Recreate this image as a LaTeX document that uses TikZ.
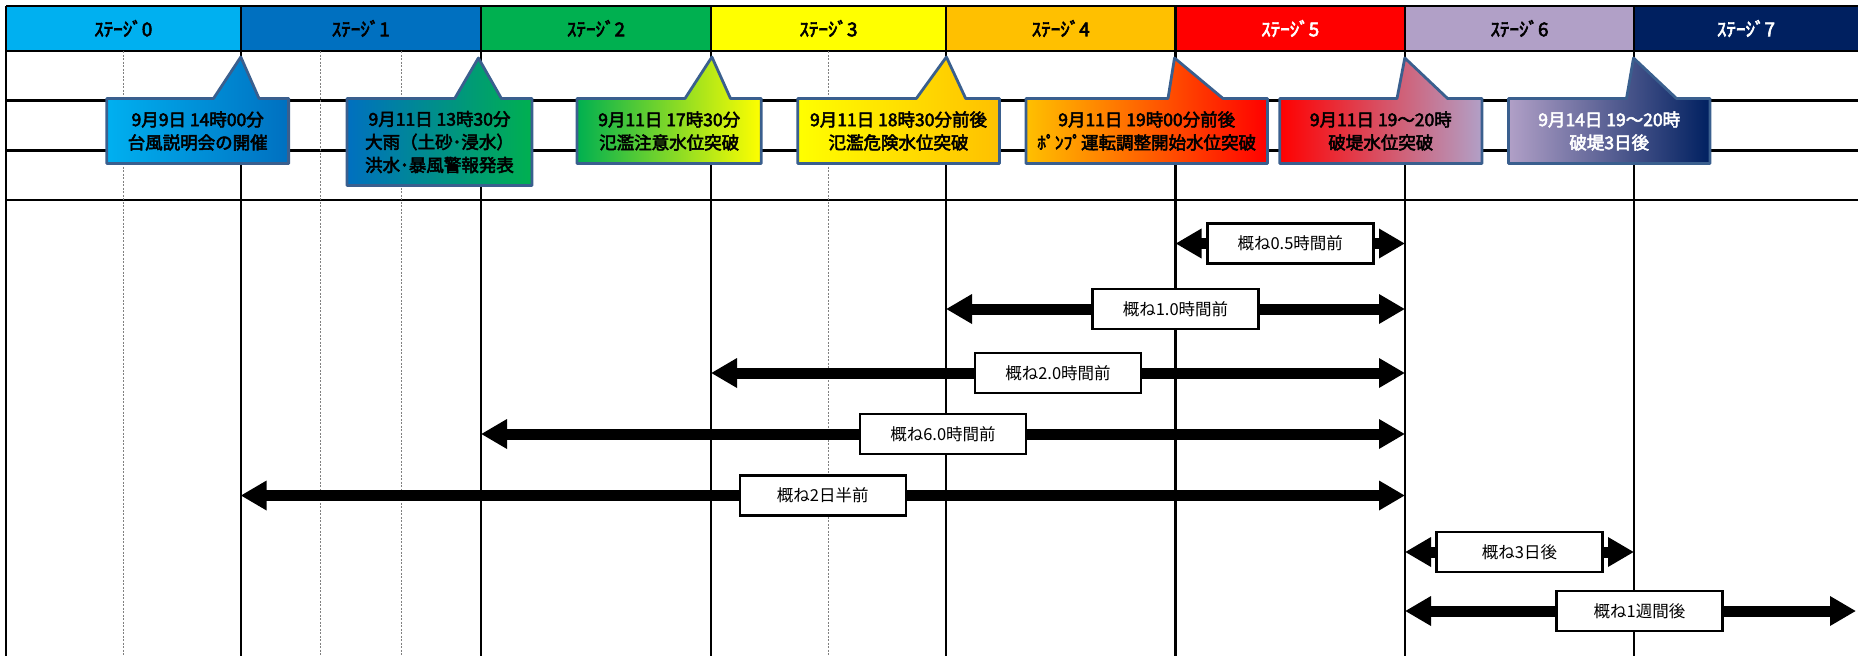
\documentclass[tikz,border=0pt]{standalone}
\usepackage{fontspec}
\setmainfont{Noto Sans CJK JP}[AutoFakeBold=3]
\usetikzlibrary{arrows.meta}
\definecolor{stufe0}{HTML}{00B0F0}
\definecolor{stufe1}{HTML}{0070C0}
\definecolor{stufe2}{HTML}{00B050}
\definecolor{stufe3}{HTML}{FFFF00}
\definecolor{stufe4}{HTML}{FFC000}
\definecolor{stufe5}{HTML}{FF0000}
\definecolor{stufe6}{HTML}{B1A0C7}
\definecolor{stufe7}{HTML}{002060}
\definecolor{blase}{HTML}{3A5F8E}
\definecolor{punktlinie}{HTML}{808080}
\begin{document}
\begin{tikzpicture}[x=1pt,y=-1pt,
    raster/.style={line width=2.2pt},
    hilfslinie/.style={punktlinie, line width=1pt, dash pattern=on 2pt off 1.5pt},
    kopf/.style={font=\bfseries\fontsize{19}{22}\selectfont},
    sprechblase/.style={draw=blase, line width=2.8pt, line join=round},
    ereignis/.style={font=\bfseries\fontsize{17.5}{23}\selectfont, align=center},
    zeitpfeil/.style={line width=11pt,
        {Triangle[length=26pt,width=28pt]}-{Triangle[length=26pt,width=28pt]}},
    zeitkasten/.style={draw, line width=2.6pt, fill=white, minimum width=166pt,
        minimum height=40pt, font=\fontsize{16.5}{19}\selectfont}]
    \useasboundingbox (0,0) rectangle (1858,656);

    % Kopfzeile
    \foreach \i/\xa/\xb/\tc in {0/6/240.6/black, 1/240.6/481/black, 2/481/711/black,
        3/711/946/black, 4/946/1175.5/black, 5/1175.5/1405/white,
        6/1405/1634/black, 7/1634/1858/white} {
        \fill[stufe\i] (\xa,6) rectangle (\xb,51);
        \node[kopf, text=\tc] (k\i) at ({(\xa+\xb)/2},28.5) {ｽﾃｰｼﾞ\i};
    }

    % Raster
    \draw[raster] (6,6) -- (1858,6);
    \foreach \y in {51,100.5,150.5,200}
        \draw[raster] (6,\y) -- (1858,\y);
    \foreach \x in {6,240.6,481,711,946,1175.5,1405,1634}
        \draw[raster] (\x,6) -- (\x,656);
    \foreach \x in {123,320,401,828}
        \draw[hilfslinie] (\x,51) -- (\x,656);

    % Ereignis 0
    \shadedraw[sprechblase, left color=stufe0, right color=stufe1]
        (106.8,98.5) -- (213.5,98.5) -- (240.8,57) -- (259,98.5) -- (288.6,98.5)
        -- (288.6,163.5) -- (106.8,163.5) -- cycle;
    \node[ereignis] (e0) at (197.7,131) {9月9日 14時00分\\台風説明会の開催};

    % Ereignis 1
    \shadedraw[sprechblase, left color=stufe1, right color=stufe2]
        (347,98.5) -- (454.7,98.5) -- (478.4,58) -- (501.4,98.5) -- (532,98.5)
        -- (532,185.5) -- (347,185.5) -- cycle;
    \node[ereignis] (e1) at (439.5,142) {9月11日 13時30分\\大雨（土砂･浸水）\\洪水･暴風警報発表};

    % Ereignis 2
    \shadedraw[sprechblase, left color=stufe2, right color=stufe3]
        (577,98.5) -- (685,98.5) -- (711.9,57) -- (730.5,98.5) -- (761.3,98.5)
        -- (761.3,163.5) -- (577,163.5) -- cycle;
    \node[ereignis] (e2) at (669.2,131) {9月11日 17時30分\\氾濫注意水位突破};

    % Ereignis 3
    \shadedraw[sprechblase, left color=stufe3, right color=stufe4]
        (797.7,98.5) -- (916.3,98.5) -- (946.4,57) -- (965.7,98.5) -- (999.4,98.5)
        -- (999.4,163.5) -- (797.7,163.5) -- cycle;
    \node[ereignis] (e3) at (898.5,131) {9月11日 18時30分前後\\氾濫危険水位突破};

    % Ereignis 4
    \shadedraw[sprechblase, left color=stufe4, right color=stufe5]
        (1026,98.5) -- (1168,98.5) -- (1174.5,58) -- (1223,98.5) -- (1267.5,98.5)
        -- (1267.5,163.5) -- (1026,163.5) -- cycle;
    \node[ereignis] (e4) at (1146.7,131) {9月11日 19時00分前後\\ﾎﾟﾝﾌﾟ運転調整開始水位突破};

    % Ereignis 5
    \shadedraw[sprechblase, left color=stufe5, right color=stufe6]
        (1279.7,98.5) -- (1397,98.5) -- (1404.8,58) -- (1447.6,98.5) -- (1482,98.5)
        -- (1482,163.5) -- (1279.7,163.5) -- cycle;
    \node[ereignis] (e5) at (1380.8,131) {9月11日 19～20時\\破堤水位突破};

    % Ereignis 6
    \shadedraw[sprechblase, left color=stufe6, right color=stufe7]
        (1508.4,98.5) -- (1626.5,98.5) -- (1633.5,58) -- (1676.5,98.5) -- (1710,98.5)
        -- (1710,163.5) -- (1508.4,163.5) -- cycle;
    \node[ereignis, text=white] (e6) at (1609.2,131) {9月14日 19～20時\\破堤3日後};

    % Zeitspannen
    \foreach \n/\xa/\xb/\y/\p/\txt in {1/1175.5/1405/243.5/0.5/概ね0.5時間前,
        2/946/1405/309/0.5/概ね1.0時間前, 3/711/1405/373/0.5/概ね2.0時間前,
        4/481/1405/434/0.5/概ね6.0時間前, 5/240.6/1405/495.5/0.5/概ね2日半前,
        6/1405/1634/552/0.5/概ね3日後, 7/1405/1856/611/0.52/概ね1週間後} {
        \coordinate (p\n a) at (\xa,\y);
        \coordinate (p\n b) at (\xb,\y);
        \draw[zeitpfeil] (p\n a) -- (p\n b) node[zeitkasten, pos=\p] (z\n) {\txt};
    }
\end{tikzpicture}
\end{document}
